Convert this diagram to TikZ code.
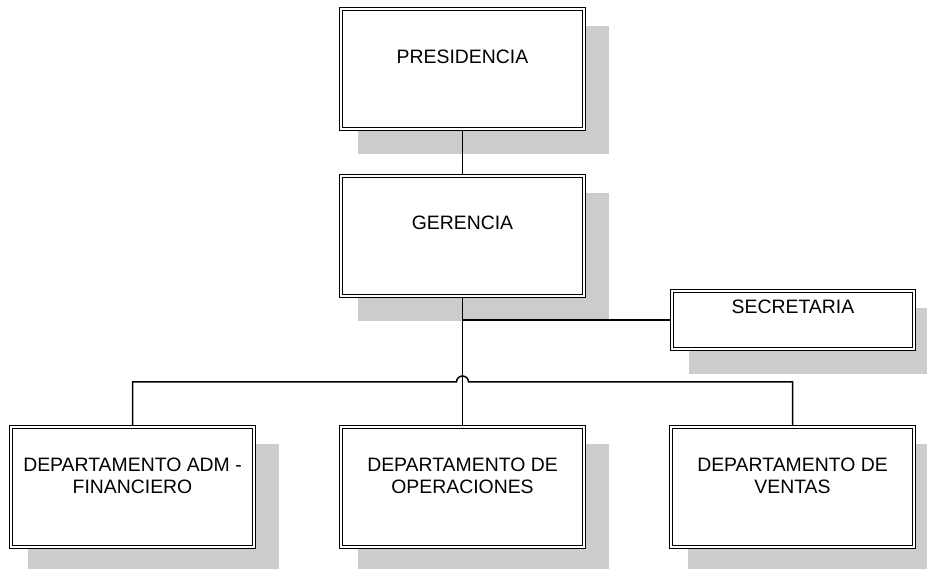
\documentclass[tikz,border=0pt]{standalone}
\usepackage{fontspec}
\setmainfont{Liberation Sans}
\usetikzlibrary{backgrounds}
\definecolor{shadowgray}{RGB}{204,204,204}
\newcommand\dropshade[1]{\fill[shadowgray] ([xshift=18pt,yshift=-24pt]#1.south west) rectangle ([xshift=24pt,yshift=-18pt]#1.north east);}
\begin{document}
\begin{tikzpicture}[x=1pt,y=-1pt,
  box/.style={draw=black, line width=1.1pt, double=white, double distance=2.4pt, fill=white, minimum width=243pt, minimum height=120pt, inner sep=0pt},
  secbox/.style={box, minimum width=242pt, minimum height=58pt},
  boxtext/.style={font=\fontsize{19.4}{22}\selectfont, align=center, inner sep=0pt, text=black},
  link/.style={draw=black, line width=1.5pt}]
\useasboundingbox (0,0) rectangle (927,569);
% boxes
\node[box] (pres) at (462.5,69) {};
\node[box] (ger) at (462.5,236) {};
\node[secbox] (sec) at (793,320) {};
\node[box] (dl) at (132.5,487) {};
\node[box] (dm) at (462.5,487) {};
\node[box] (dr) at (792.5,487) {};
% texts
\node[boxtext] (ptxt) at ([yshift=12pt]pres.center) {PRESIDENCIA};
\node[boxtext] (gtxt) at ([yshift=13pt]ger.center) {GERENCIA};
\node[boxtext] (stxt) at ([yshift=13pt]sec.center) {SECRETARIA};
\node[boxtext] (dltxt) at ([yshift=11pt]dl.center) {DEPARTAMENTO ADM -\\FINANCIERO};
\node[boxtext] (dmtxt) at ([yshift=11pt]dm.center) {DEPARTAMENTO DE\\OPERACIONES};
\node[boxtext] (drtxt) at ([yshift=11pt]dr.center) {DEPARTAMENTO DE\\VENTAS};
\coordinate (bus) at (462.5,382);
\begin{pgfonlayer}{background}
  \dropshade{pres}
  \dropshade{ger}
  \dropshade{sec}
  \dropshade{dl}
  \dropshade{dm}
  \dropshade{dr}
  \draw[link] (pres.south) -- (ger.north);
  \draw[link] (ger.south) -- (dm.north);
  \draw[link] (ger.south |- sec.west) -- (sec.west);
  \draw[link] (dl.north) -- (dl.north |- bus) -- ([xshift=-6pt]bus) arc[start angle=180, end angle=0, radius=6pt] -- (dr.north |- bus) -- (dr.north);
\end{pgfonlayer}
\end{tikzpicture}
\end{document}
